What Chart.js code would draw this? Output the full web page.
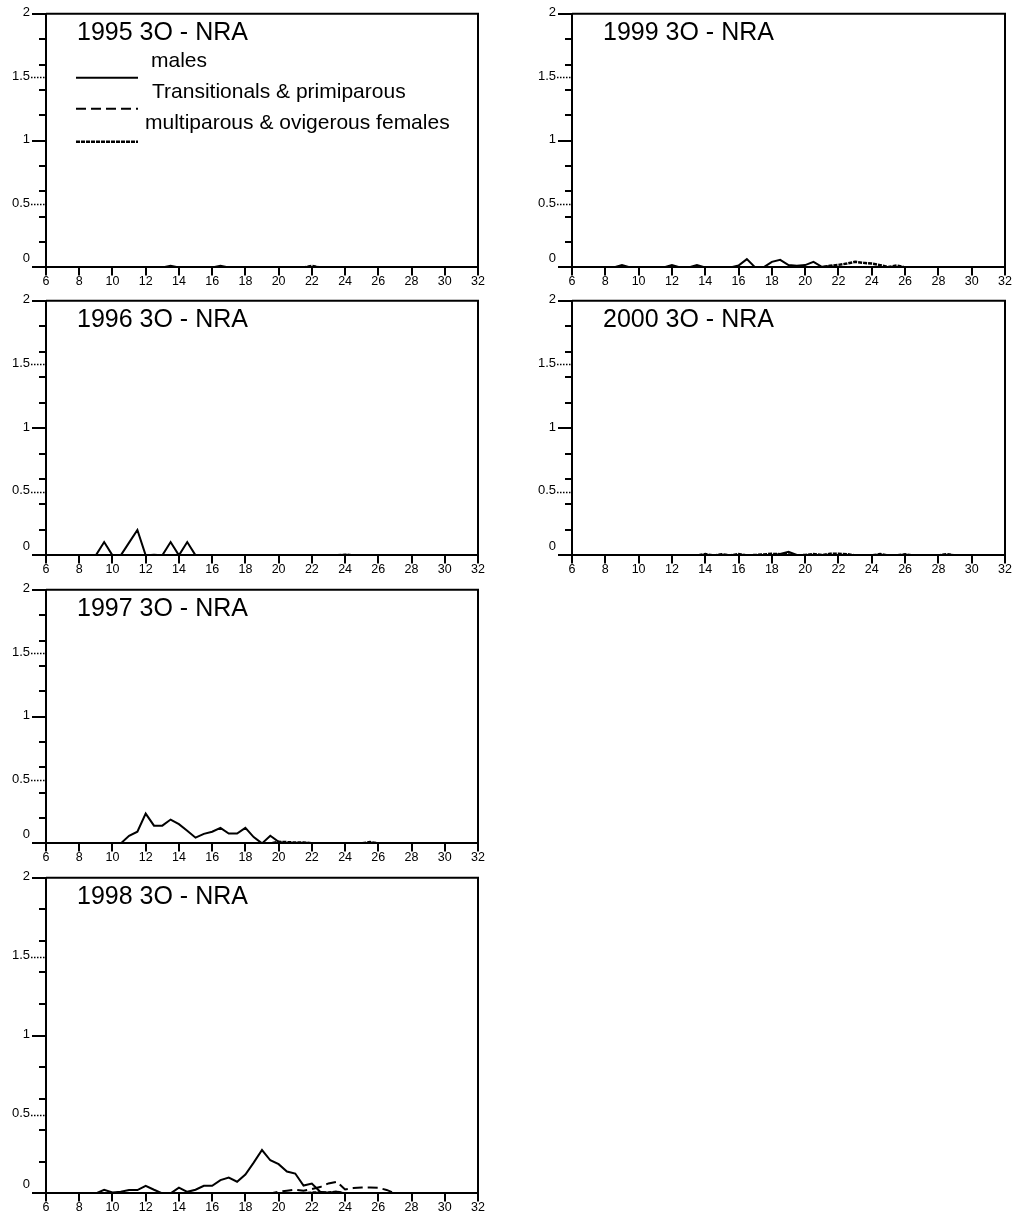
<!DOCTYPE html>
<html>
<head>
<meta charset="utf-8">
<title>3O - NRA</title>
<script src="https://cdn.jsdelivr.net/npm/chart.js@4.4.1/dist/chart.umd.min.js"></script>
<style>
    html, body { margin: 0; padding: 0; background: #fff; }
    body { position: relative; width: 1017px; height: 1226px; overflow: hidden; }
    .panel { position: absolute; }
</style>
</head>
<body>
<div class="panel" id="p1995"><canvas></canvas></div>
<div class="panel" id="p1996"><canvas></canvas></div>
<div class="panel" id="p1997"><canvas></canvas></div>
<div class="panel" id="p1998"><canvas></canvas></div>
<div class="panel" id="p1999"><canvas></canvas></div>
<div class="panel" id="p2000"><canvas></canvas></div>
<script>
// carapace width classes (0.5 steps), shared by all panels
const lengths = [8.5, 9, 9.5, 10, 10.5, 11, 11.5, 12, 12.5,
    13, 13.5, 14, 14.5, 15, 15.5, 16, 16.5, 17, 17.5,
    18, 18.5, 19, 19.5, 20, 20.5, 21, 21.5, 22, 22.5,
    23, 23.5, 24, 24.5, 25, 25.5, 26, 26.5, 27, 27.5,
    28, 28.5, 29, 29.5];

const seriesNames = ['males', 'Transitionals & primiparous', 'multiparous & ovigerous females'];

const males1995 = [0, 0, 0, 0, 0, 0, 0, 0, 0,
    0, 0.012, 0, 0, 0, 0, 0, 0.012, 0, 0,
    0, 0, 0, 0, 0, 0, 0, 0, 0, 0,
    0, 0, 0, 0, 0, 0, 0, 0, 0, 0,
    0, 0, 0, 0];
const trans1995 = [0, 0, 0, 0, 0, 0, 0, 0, 0,
    0, 0, 0, 0, 0, 0, 0, 0, 0, 0,
    0, 0, 0, 0, 0, 0, 0, 0, 0, 0,
    0, 0, 0, 0, 0, 0, 0, 0, 0, 0,
    0, 0, 0, 0];
const multi1995 = [0, 0, 0, 0, 0, 0, 0, 0, 0,
    0, 0, 0, 0, 0, 0, 0, 0, 0, 0,
    0, 0, 0, 0, 0, 0, 0, 0, 0.012, 0,
    0, 0, 0, 0, 0, 0, 0, 0, 0, 0,
    0, 0, 0, 0];

const males1996 = [0, 0, 0.105, 0, 0, 0.1, 0.2, 0, 0,
    0, 0.105, 0, 0.105, 0, 0, 0, 0, 0, 0,
    0, 0, 0, 0, 0, 0, 0, 0, 0, 0,
    0, 0, 0, 0, 0, 0, 0, 0, 0, 0,
    0, 0, 0, 0];
const trans1996 = [0, 0, 0, 0, 0, 0, 0, 0, 0.006,
    0, 0, 0, 0, 0, 0, 0, 0, 0, 0,
    0, 0, 0, 0, 0, 0, 0, 0, 0, 0,
    0, 0, 0, 0, 0, 0, 0, 0, 0, 0,
    0, 0, 0, 0];
const multi1996 = [0, 0, 0, 0, 0, 0, 0, 0, 0,
    0, 0, 0, 0, 0, 0, 0, 0, 0, 0,
    0, 0, 0, 0, 0, 0, 0, 0, 0, 0,
    0, 0, 0.006, 0, 0, 0, 0, 0, 0, 0,
    0, 0, 0, 0];

const males1997 = [0, 0, 0, 0, 0, 0.06, 0.092, 0.235, 0.14,
    0.14, 0.188, 0.152, 0.1, 0.045, 0.075, 0.092, 0.122, 0.078, 0.078,
    0.122, 0.05, 0, 0.06, 0.012, 0, 0, 0, 0, 0,
    0, 0, 0, 0, 0, 0, 0, 0, 0, 0,
    0, 0, 0, 0];
const trans1997 = [0, 0, 0, 0, 0, 0, 0, 0, 0,
    0, 0, 0, 0, 0, 0, 0, 0, 0, 0,
    0, 0, 0, 0, 0, 0, 0, 0, 0, 0,
    0, 0, 0, 0, 0, 0, 0, 0, 0, 0,
    0, 0, 0, 0];
const multi1997 = [0, 0, 0, 0, 0, 0, 0, 0, 0,
    0, 0, 0, 0, 0, 0, 0, 0, 0, 0,
    0, 0, 0, 0, 0.012, 0.01, 0.007, 0.008, 0, 0,
    0, 0, 0, 0, 0, 0.01, 0, 0, 0, 0,
    0, 0, 0, 0];

const males1998 = [0, 0, 0.023, 0.006, 0.01, 0.021, 0.021, 0.048, 0.023,
    0, 0, 0.036, 0.01, 0.023, 0.048, 0.048, 0.084, 0.1, 0.074,
    0.12, 0.195, 0.275, 0.21, 0.185, 0.139, 0.126, 0.05, 0.062, 0.01,
    0.002, 0.01, 0, 0, 0, 0, 0, 0, 0, 0,
    0, 0, 0, 0];
const trans1998 = [0, 0, 0, 0, 0, 0, 0, 0, 0,
    0, 0, 0, 0, 0, 0, 0, 0, 0, 0,
    0, 0, 0, 0, 0.01, 0.017, 0.023, 0.017, 0.027, 0.04,
    0.063, 0.074, 0.025, 0.034, 0.037, 0.037, 0.036, 0.022, 0, 0,
    0, 0, 0, 0];
const multi1998 = [0, 0, 0, 0, 0, 0, 0, 0, 0,
    0, 0, 0, 0, 0, 0, 0, 0, 0, 0,
    0, 0, 0, 0, 0, 0, 0, 0, 0.005, 0.005,
    0.006, 0.01, 0, 0, 0, 0, 0, 0, 0, 0,
    0, 0, 0, 0];

const males1999 = [0, 0.018, 0, 0, 0, 0, 0, 0.018, 0,
    0, 0.018, 0, 0, 0, 0, 0.015, 0.065, 0, 0,
    0.044, 0.06, 0.018, 0.013, 0.018, 0.044, 0.005, 0.01, 0, 0,
    0, 0, 0, 0, 0, 0, 0, 0, 0, 0,
    0, 0, 0, 0];
const trans1999 = [0, 0, 0, 0, 0, 0, 0, 0, 0,
    0, 0, 0, 0, 0, 0, 0, 0, 0, 0,
    0, 0, 0, 0, 0, 0, 0, 0, 0, 0,
    0, 0, 0, 0, 0, 0, 0, 0, 0, 0,
    0, 0, 0, 0];
const multi1999 = [0, 0, 0, 0, 0, 0, 0, 0, 0,
    0, 0, 0, 0, 0, 0, 0, 0, 0, 0,
    0, 0, 0, 0, 0, 0, 0, 0.013, 0.02, 0.03,
    0.044, 0.036, 0.03, 0.018, 0.003, 0.015, 0, 0, 0, 0,
    0, 0, 0, 0];

const males2000 = [0, 0, 0, 0, 0, 0, 0, 0, 0,
    0, 0, 0, 0, 0, 0, 0, 0, 0, 0,
    0, 0.012, 0.028, 0.003, 0, 0, 0, 0, 0, 0,
    0, 0, 0, 0, 0, 0, 0, 0, 0, 0,
    0, 0, 0, 0];
const trans2000 = [0, 0, 0, 0, 0, 0, 0, 0, 0,
    0, 0, 0, 0, 0, 0, 0, 0, 0, 0,
    0, 0, 0, 0, 0, 0, 0, 0, 0, 0,
    0, 0, 0, 0, 0, 0, 0, 0, 0, 0,
    0, 0, 0, 0];
const multi2000 = [0, 0, 0, 0, 0, 0, 0, 0, 0,
    0, 0, 0.01, 0, 0.008, 0, 0.01, 0, 0.003, 0.008,
    0.012, 0.01, 0.008, 0, 0.003, 0.01, 0.003, 0.012, 0.012, 0.01,
    0, 0, 0, 0.01, 0, 0, 0.008, 0, 0, 0,
    0, 0.01, 0, 0];

const xTicks = [6, 32, 2];       // min, max, step
const yTicks = [0, 2, 0.1];      // min, max, step (labels every 0.5)

(function () {
    'use strict';

    const FONT = '"Liberation Sans", Arial, sans-serif';
    const AXIS_W = 46, AXIS_H = 24, PAD_TOP = 16, PAD_RIGHT = 12;

    // plot box of every panel: left, top, right, bottom (page pixels)
    const panels = [
        { id: 'p1995', title: '1995 3O - NRA', data: [males1995, trans1995, multi1995], box: [46, 13, 478, 268], legend: true },
        { id: 'p1996', title: '1996 3O - NRA', data: [males1996, trans1996, multi1996], box: [46, 300, 478, 556] },
        { id: 'p1997', title: '1997 3O - NRA', data: [males1997, trans1997, multi1997], box: [46, 589, 478, 844] },
        { id: 'p1998', title: '1998 3O - NRA', data: [males1998, trans1998, multi1998], box: [46, 877, 478, 1194] },
        { id: 'p1999', title: '1999 3O - NRA', data: [males1999, trans1999, multi1999], box: [572, 13, 1005, 268] },
        { id: 'p2000', title: '2000 3O - NRA', data: [males2000, trans2000, multi2000], box: [572, 300, 1005, 556] }
    ];

    const lineStyles = [
        { borderDash: [], width: 2 },
        { borderDash: [10, 5], width: 2 },
        { borderDash: [4, 1], width: 2.5 }
    ];

    const isStep = (v, step) => Math.abs(v / step - Math.round(v / step)) < 1e-6;

    const panelDecor = {
        id: 'panelDecor',
        afterDraw(chart, args, opts) {
            const { ctx, chartArea: a } = chart;
            const yScale = chart.scales.y;
            ctx.save();
            ctx.strokeStyle = '#000';
            ctx.fillStyle = '#000';
            ctx.lineWidth = 2;
            ctx.beginPath();
            ctx.moveTo(a.left, a.top);
            ctx.lineTo(a.right, a.top);
            ctx.lineTo(a.right, a.bottom);
            ctx.stroke();

            // longer marks at the labelled values
            [0, 1, 2].forEach(v => {
                const y = Math.round(yScale.getPixelForValue(v));
                ctx.beginPath();
                ctx.moveTo(a.left - 14, y);
                ctx.lineTo(a.left, y);
                ctx.stroke();
            });
            ctx.lineWidth = 1.5;
            ctx.setLineDash([1.5, 1.5]);
            [0.5, 1.5].forEach(v => {
                const y = Math.round(yScale.getPixelForValue(v)) + 0.5;
                ctx.beginPath();
                ctx.moveTo(a.left - 15, y);
                ctx.lineTo(a.left, y);
                ctx.stroke();
            });
            ctx.setLineDash([]);

            ctx.font = '25px ' + FONT;
            ctx.textBaseline = 'alphabetic';
            ctx.fillText(opts.title, a.left + 31, a.top + 26);

            if (opts.legend) {
                const textPos = [[105, 53], [106, 84], [99, 115]];
                const linePos = [64, 95, 128];
                ctx.font = '21px ' + FONT;
                chart.data.datasets.forEach((ds, i) => {
                    ctx.fillText(ds.label, a.left + textPos[i][0], a.top + textPos[i][1]);
                    ctx.lineWidth = ds.borderWidth;
                    ctx.setLineDash(ds.borderDash || []);
                    ctx.beginPath();
                    ctx.moveTo(a.left + 30, a.top + linePos[i]);
                    ctx.lineTo(a.left + 92, a.top + linePos[i]);
                    ctx.stroke();
                });
            }
            ctx.restore();
        }
    };

    function buildChart(p) {
        const [left, top, right, bottom] = p.box;
        const wrap = document.getElementById(p.id);
        const L = left - AXIS_W, T = top - PAD_TOP;
        wrap.style.left = L + 'px';
        wrap.style.top = T + 'px';
        wrap.style.width = (right - L + PAD_RIGHT) + 'px';
        wrap.style.height = (bottom - T + AXIS_H) + 'px';

        const datasets = p.data.map((values, i) => ({
            label: seriesNames[i],
            data: values.map((v, k) => ({ x: lengths[k], y: v })),
            borderColor: '#000',
            borderWidth: lineStyles[i].width,
            borderDash: lineStyles[i].borderDash,
            pointRadius: 0,
            tension: 0,
            fill: false
        }));

        new Chart(wrap.querySelector('canvas'), {
            type: 'line',
            data: { datasets: datasets },
            plugins: [panelDecor],
            options: {
                responsive: true,
                maintainAspectRatio: false,
                animation: false,
                devicePixelRatio: 1,
                layout: { padding: { top: PAD_TOP, right: PAD_RIGHT, left: 0, bottom: 0 } },
                plugins: {
                    legend: { display: false },
                    tooltip: { enabled: false },
                    panelDecor: { title: p.title, legend: !!p.legend }
                },
                scales: {
                    x: {
                        type: 'linear',
                        min: xTicks[0],
                        max: xTicks[1],
                        afterFit: axis => { axis.height = AXIS_H; },
                        border: { display: true, color: '#000', width: 2 },
                        grid: { drawOnChartArea: false, drawTicks: true, tickLength: 8, color: '#000', lineWidth: 2 },
                        ticks: {
                            stepSize: xTicks[2],
                            autoSkip: false,
                            maxRotation: 0,
                            padding: -1,
                            color: '#000',
                            font: { family: FONT, size: 12.5 }
                        }
                    },
                    y: {
                        min: yTicks[0],
                        max: yTicks[1],
                        afterFit: axis => { axis.width = AXIS_W; },
                        border: { display: true, color: '#000', width: 2 },
                        grid: {
                            drawOnChartArea: false,
                            drawTicks: true,
                            tickLength: 7,
                            lineWidth: 2,
                            tickColor: c => isStep(c.tick.value, 0.2) ? '#000' : 'rgba(0,0,0,0)'
                        },
                        ticks: {
                            stepSize: yTicks[2],
                            autoSkip: false,
                            padding: 9,
                            labelOffset: -1,
                            color: '#000',
                            font: { family: FONT, size: 13 },
                            callback: v => {
                                if (!isStep(v, 0.5)) return '';
                                return v === 0 ? ['0', ''] : String(v);
                            }
                        }
                    }
                }
            }
        });
    }

    panels.forEach(buildChart);
})();
</script>
</body>
</html>
